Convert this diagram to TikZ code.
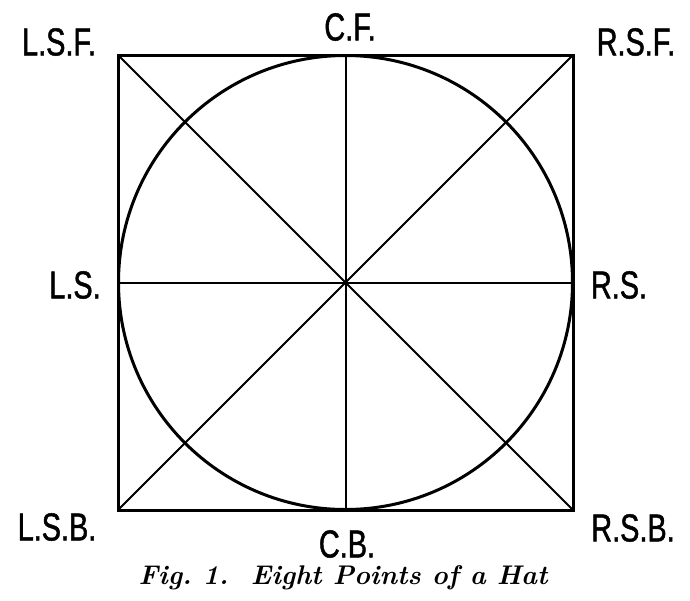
\documentclass[tikz,border=0pt]{standalone}
\usepackage{fontspec}
\newfontfamily\lblfont[FakeStretch=0.74,FakeBold=1.2]{Liberation Sans}
\begin{document}
\begin{tikzpicture}[x=1pt,y=-1pt,
  lbl/.style={font=\lblfont\fontsize{39}{42}\selectfont, inner sep=0pt},
  frame/.style={line width=3pt, line cap=round, line join=miter},
  guide/.style={line width=2pt},
  captext/.style={font=\fontsize{27}{30}\selectfont\bfseries\itshape, inner sep=0pt}]
\useasboundingbox[fill=white] (0,0) rectangle (690,600);
\coordinate (tl) at (118,55);
\coordinate (tr) at (573,55);
\coordinate (bl) at (118,510);
\coordinate (br) at (573,510);
\coordinate (c) at (345.5,282.5);
\coordinate (tm) at (345.5,55);
\coordinate (bm) at (345.5,510);
\coordinate (lm) at (118,282.5);
\coordinate (rm) at (573,282.5);
\draw[guide] (tl) -- (br);
\draw[guide] (tr) -- (bl);
\draw[guide] (tm) -- (bm);
\draw[guide] (lm) -- (rm);
\draw[frame] (c) circle[radius=227];
\draw[frame] (tl) rectangle (br);
\node[lbl] (lsf) at (59,42) {L.S.F.};
\node[lbl] (cf) at (350,27) {C.F.};
\node[lbl] (rsf) at (636,42) {R.S.F.};
\node[lbl] (ls) at (75,285) {L.S.};
\node[lbl] (rs) at (619,285) {R.S.};
\node[lbl] (lsb) at (57,527) {L.S.B.};
\node[lbl] (cb) at (347,544) {C.B.};
\node[lbl] (rsb) at (633,528) {R.S.B.};
\node[captext] (caption) at (343,578) {Fig.\ 1.\ \ Eight Points of a Hat};
\end{tikzpicture}
\end{document}
